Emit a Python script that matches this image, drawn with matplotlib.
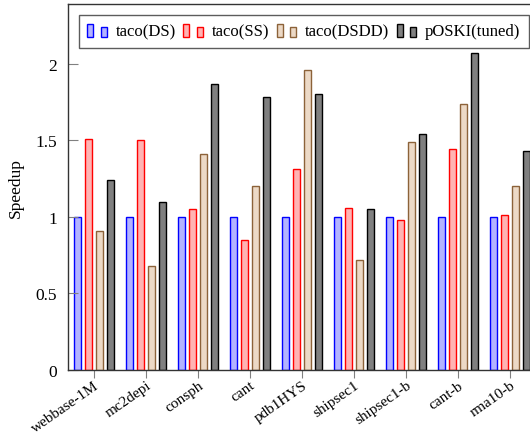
import matplotlib.pyplot as plt
import numpy as np
from matplotlib.patches import Rectangle
from matplotlib.legend_handler import HandlerBase

plt.rcParams['font.family'] = ['Liberation Serif', 'DejaVu Serif']

matrices = ["webbase-1M", "mc2depi", "consph", "cant", "pdb1HYS",
            "shipsec1", "shipsec1-b", "cant-b", "rma10-b"]
taco_ds = [1.0, 1.0, 1.0, 1.0, 1.0, 1.0, 1.0, 1.0, 1.0]
taco_ss = [1.51, 1.50, 1.05, 0.85, 1.31, 1.06, 0.98, 1.44, 1.01]
taco_dsdd = [0.91, 0.68, 1.41, 1.20, 1.96, 0.72, 1.49, 1.74, 1.20]
poski = [1.24, 1.10, 1.87, 1.78, 1.80, 1.05, 1.54, 2.07, 1.43]

series = [
    ("taco(DS)", taco_ds, "#b3b3ff", "#0000ff"),
    ("taco(SS)", taco_ss, "#ffb3b3", "#ff0000"),
    ("taco(DSDD)", taco_dsdd, "#ecd9c6", "#8c6239"),
    ("pOSKI(tuned)", poski, "#808080", "#000000"),
]


# pgfplots style legend entry: one tall bar and one short bar
class TwoBarHandler(HandlerBase):
    def create_artists(self, legend, orig, xd, yd, w, h, fontsize, trans):
        fc = orig.get_facecolor()
        ec = orig.get_edgecolor()
        r1 = Rectangle((xd, yd - 0.15 * h), w * 0.28, h * 1.15,
                       facecolor=fc, edgecolor=ec, lw=1.0, transform=trans)
        r2 = Rectangle((xd + w * 0.62, yd - 0.15 * h), w * 0.28, h * 0.85,
                       facecolor=fc, edgecolor=ec, lw=1.0, transform=trans)
        return [r1, r2]


fig = plt.figure(figsize=(5.3, 4.35), dpi=100)
ax = fig.add_axes([68 / 530, 1 - 371 / 435, 468 / 530, 366 / 435])

x = np.arange(len(matrices))
bw = 0.14
step = 0.21
handles = []
for i, (name, vals, fc, ec) in enumerate(series):
    b = ax.bar(x + (i - 1.5) * step, vals, bw, color=fc, edgecolor=ec,
               linewidth=1.0, label=name)
    handles.append(b.patches[0])

ax.set_xlim(-0.5, 8.5)
ax.set_ylim(0, 2.39)
ax.set_xticks(x)
ax.set_xticklabels(matrices, rotation=35, ha="right", rotation_mode="anchor",
                   fontsize=11)
ax.set_yticks([0, 0.5, 1, 1.5, 2])
ax.set_yticklabels(["0", "0.5", "1", "1.5", "2"], fontsize=12.5)
ax.tick_params(axis="y", direction="in", length=7, color="#808080", pad=8)
ax.tick_params(axis="x", direction="out", length=6, color="#808080", pad=0)
for s in ax.spines.values():
    s.set_color("#333333")
    s.set_linewidth(1.0)
ax.set_ylabel("Speedup", fontsize=12.5, labelpad=8)

leg = ax.legend(handles, [s[0] for s in series], ncol=4,
                handler_map={h: TwoBarHandler() for h in handles},
                loc="upper left", bbox_to_anchor=(11 / 468, 1 - 11 / 366),
                fontsize=12, frameon=True, fancybox=False, edgecolor="#333333",
                handlelength=1.3, handletextpad=0.4, columnspacing=0.45,
                borderpad=0.5, borderaxespad=0)
leg.get_frame().set_linewidth(1.0)

fig.savefig("out.png", dpi=100)
